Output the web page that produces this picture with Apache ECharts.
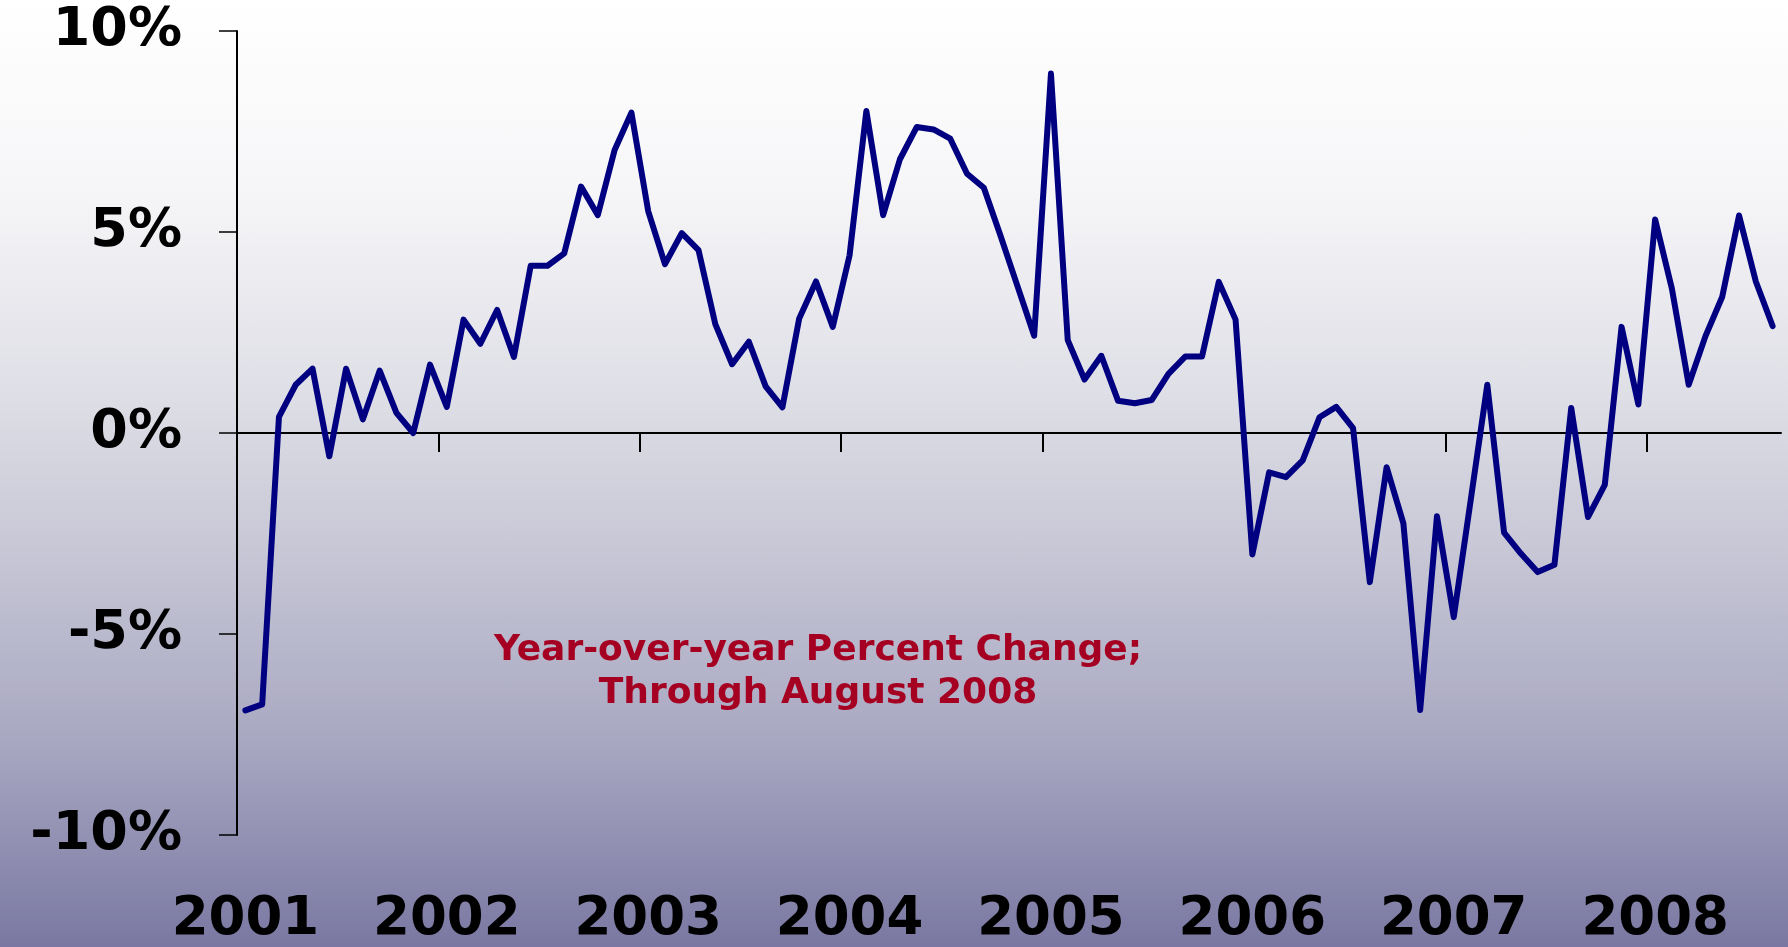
<!DOCTYPE html>
<html>
<head>
<meta charset="utf-8">
<script src="https://cdn.jsdelivr.net/npm/echarts@6/dist/echarts.min.js"></script>
<style>
  html, body { margin: 0; padding: 0; }
  #chart {
    width: 1788px; height: 947px;
    background: linear-gradient(to bottom, #ffffff 0%, #f6f6f8 20%, #dedee6 42%, #c4c4d4 60%, #a9a8c2 78%, #7a78a2 100%);
  }
</style>
</head>
<body>
<div id="chart"></div>
<script>
// Monthly categories Jan 2001 .. Aug 2008
const years = ['2001','2002','2003','2004','2005','2006','2007','2008'];
const months = [];
years.forEach(function (y) {
  for (let m = 1; m <= 12; m++) {
    if (y === '2008' && m > 8) break;
    months.push(y + '-' + (m < 10 ? '0' + m : m));
  }
});
// month boundaries (start of each month, plus end of Aug 2008) for the year ticks
const boundaries = months.concat(['2008-09']);

// Year-over-year percent change
const values2001 = [-6.9, -6.75, 0.4, 1.2, 1.6, -0.58, 1.6, 0.34, 1.55, 0.5, 0.0, 1.7];
const values2002 = [0.65, 2.82, 2.22, 3.06, 1.89, 4.16, 4.16, 4.47, 6.13, 5.42, 7.04, 7.97];
const values2003 = [5.52, 4.20, 4.97, 4.55, 2.71, 1.71, 2.27, 1.16, 0.64, 2.85, 3.77, 2.64];
const values2004 = [4.42, 8.01, 5.42, 6.81, 7.61, 7.55, 7.32, 6.45, 6.10, 4.90, 3.66, 2.42];
const values2005 = [8.94, 2.31, 1.33, 1.92, 0.80, 0.74, 0.82, 1.47, 1.90, 1.90, 3.76, 2.82];
const values2006 = [-3.02, -0.98, -1.10, -0.68, 0.39, 0.65, 0.12, -3.71, -0.85, -2.25, -6.89, -2.07];
const values2007 = [-4.58, -1.70, 1.20, -2.48, -3.0, -3.46, -3.28, 0.62, -2.09, -1.29, 2.64, 0.71];
const values2008 = [5.31, 3.59, 1.20, 2.41, 3.39, 5.41, 3.77, 2.66];

const series = [].concat(values2001, values2002, values2003, values2004,
                         values2005, values2006, values2007, values2008);

const yTicks = [-10, -5, 0, 5, 10];
const annotation = ['Year-over-year Percent Change;', 'Through August 2008'];

const chart = echarts.init(document.getElementById('chart'), null, { renderer: 'canvas' });

const isJan = function (idx) { return idx % 12 === 0; };

chart.setOption({
  backgroundColor: 'transparent',
  animation: false,
  grid: { left: 237, right: 7, top: 31, bottom: 112, containLabel: false },
  xAxis: [
    {
      type: 'category',
      data: months,
      position: 'bottom',
      boundaryGap: true,
      axisLine: { show: false, onZero: false },
      axisTick: { show: false },
      splitLine: { show: false },
      axisLabel: {
        interval: function (idx) { return isJan(idx); },
        formatter: function (v) { return v.slice(0, 4); },
        margin: 59,
        color: '#000',
        fontFamily: 'DejaVu Sans',
        fontWeight: 'bold',
        fontSize: 53
      }
    },
    {
      type: 'category',
      data: boundaries,
      position: 'bottom',
      boundaryGap: false,
      axisLine: { show: true, onZero: true, lineStyle: { color: '#000', width: 2 } },
      axisTick: {
        show: true,
        inside: false,
        length: 19,
        interval: function (idx) { return isJan(idx) && idx > 0 && idx < boundaries.length - 1; },
        lineStyle: { color: '#000', width: 2 }
      },
      axisLabel: { show: false },
      splitLine: { show: false }
    }
  ],
  yAxis: {
    type: 'value',
    min: yTicks[0],
    max: yTicks[yTicks.length - 1],
    interval: 5,
    axisLine: { show: true, onZero: false, lineStyle: { color: '#000', width: 2 } },
    axisTick: { show: true, length: 18, lineStyle: { color: '#000', width: 1.5 } },
    splitLine: { show: false },
    axisLabel: {
      margin: 55,
      color: '#000',
      fontFamily: 'DejaVu Sans',
      fontWeight: 'bold',
      fontSize: 54,
      formatter: function (v) { return v + '%'; }
    }
  },
  series: [{
    type: 'line',
    xAxisIndex: 0,
    data: series,
    symbol: 'none',
    smooth: false,
    lineStyle: { color: '#000080', width: 6, join: 'round', cap: 'round' },
    z: 5
  }],
  graphic: [{
    type: 'text',
    x: 818,
    y: 672,
    style: {
      text: annotation.join('\n'),
      align: 'center',
      verticalAlign: 'middle',
      fill: '#a50021',
      fontFamily: 'DejaVu Sans',
      fontWeight: 'bold',
      fontSize: 36,
      lineHeight: 43
    }
  }]
});
</script>
</body>
</html>
